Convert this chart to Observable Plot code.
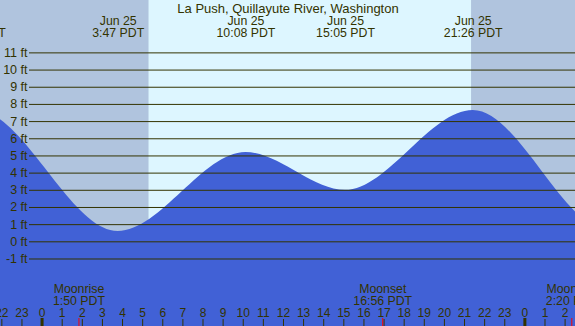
<!DOCTYPE html>
<html><head><meta charset="utf-8">
<script src="https://cdn.jsdelivr.net/npm/d3@7"></script>
<script src="https://cdn.jsdelivr.net/npm/@observablehq/plot@0.6"></script>
<style>
html,body{margin:0;padding:0;background:#fff;}
#chart svg{display:block;}
</style></head><body><div id="chart"></div>
<script>
const title = "La Push, Quillayute River, Washington";
// Tide extremes: day offset from Jun 25, local time (PDT), height (ft)
const tideDays  = [-1, -1, 0, 0, 0, 0, 1, 1];
const tideDates = ["Jun 24", "Jun 24", "Jun 25", "Jun 25", "Jun 25", "Jun 25", "Jun 26", "Jun 26"];
const tideTimes = ["14:20", "20:44", "3:47", "10:08", "15:05", "21:26", "4:15", "10:40"];
const tideFeet  = [0.9, 7.65, 0.6, 5.2, 3.0, 7.65, 0.6, 5.3];
// Sun (night shading)
const sunsetDays = [-1, 0];
const sunsetTimes = ["21:21", "21:21"];
const sunriseDays = [0, 1];
const sunriseTimes = ["5:19", "5:19"];
// Moon events
const moonNames = ["Moonrise", "Moonset", "Moonrise"];
const moonDays  = [0, 0, 1];
const moonTimes = ["1:50", "16:56", "2:20"];
// Axis ticks
const feetTicks = [-1, 0, 1, 2, 3, 4, 5, 6, 7, 8, 9, 10, 11];
const hourTicks = d3.range(-2, 27);
// Time window shown
const windowStart = [-1, "21:56"];
const windowEnd = [1, "2:31"];
const yDomain = [-4.93, 14.05];

const hrs = (day, hm) => { const [h, m] = hm.split(":").map(Number); return day * 24 + h + m / 60; };
const tide = tideTimes.map((t, i) => ({t: hrs(tideDays[i], t), v: tideFeet[i], date: tideDates[i], label: t}));
const x0 = hrs(...windowStart), x1 = hrs(...windowEnd);
const tideLabels = tide.filter(d => d.t > x0 - 2 && d.t < x1 + 2);
const nights = sunsetTimes.map((s, i) => ({a: hrs(sunsetDays[i], s), b: hrs(sunriseDays[i], sunriseTimes[i])}));
const moon = moonNames.map((n, i) => ({name: n, t: hrs(moonDays[i], moonTimes[i]), time: moonTimes[i]}));
const ink = "#333300";
const midnights = hourTicks.filter(h => h % 24 === 0);
const plainHours = hourTicks.filter(h => h % 24 !== 0);

const chart = Plot.plot({
  width: 575, height: 326, margin: 0,
  x: {domain: [x0, x1], axis: null},
  y: {domain: yDomain, axis: null},
  style: {fontFamily: "'Liberation Sans', Arial, sans-serif", fontSize: "12px", background: "#ddf6ff", overflow: "hidden"},
  marks: [
    Plot.rect(nights, {x1: "a", x2: "b", fill: "#b0c4de"}),
    Plot.areaY(tide, {x: "t", y1: yDomain[0] - 5, y2: "v", curve: "monotone-x", fill: "#4161d6", clip: true}),
    Plot.ruleY(feetTicks, {y: d => d, stroke: ink, insetLeft: 29}),
    Plot.text(feetTicks, {y: d => d, frameAnchor: "left", dx: 27, textAnchor: "end", fontSize: 12.5, text: d => `${d} ft`, fill: ink}),
    Plot.text([title], {frameAnchor: "top", lineAnchor: "top", dy: 2.8, fontSize: 13, text: d => d, fill: ink}),
    Plot.text(tideLabels, {x: "t", frameAnchor: "top", lineAnchor: "top", dy: 15.3, lineHeight: 1, fontSize: 12.3, text: d => `${d.date}\n${d.label} PDT`, fill: ink}),
    Plot.text(moon, {x: "t", frameAnchor: "top", lineAnchor: "top", dy: 283.3, lineHeight: 1, fontSize: 12.3, text: d => `${d.name}\n${d.time} PDT`, fill: ink}),
    Plot.text(hourTicks, {x: d => d, frameAnchor: "top", lineAnchor: "top", dy: 307.5, text: d => String(((d % 24) + 24) % 24), fill: ink}),
    Plot.ruleX(plainHours, {x: d => d, insetTop: 319, stroke: ink}),
    Plot.ruleX(midnights, {x: d => d, insetTop: 318, stroke: ink, strokeWidth: 3}),
    Plot.ruleX(moon, {x: "t", insetTop: 318, stroke: "red"})
  ]
});
document.getElementById("chart").appendChild(chart);
</script>
</body></html>
